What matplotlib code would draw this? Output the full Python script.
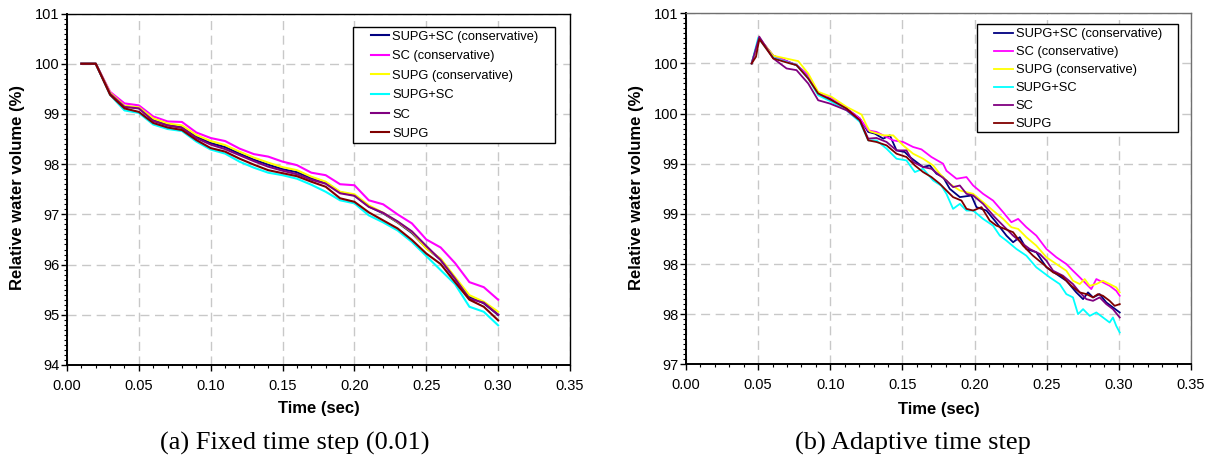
import matplotlib
matplotlib.use("Agg")
import matplotlib.pyplot as plt
from matplotlib.ticker import MultipleLocator, FixedLocator, FixedFormatter
from matplotlib.patches import Rectangle

# ---------------- data ----------------
series_names = ["SUPG+SC (conservative)", "SC (conservative)", "SUPG (conservative)",
                "SUPG+SC", "SC", "SUPG"]
series_colors = ["#000080", "#FF00FF", "#FFFF00", "#00FFFF", "#800080", "#800000"]

# (a) fixed time step
fixed_time = [0.01, 0.02, 0.03, 0.04, 0.05, 0.06, 0.07, 0.08, 0.09, 0.10,
              0.11, 0.12, 0.13, 0.14, 0.15, 0.16, 0.17, 0.18, 0.19, 0.20,
              0.21, 0.22, 0.23, 0.24, 0.25, 0.26, 0.27, 0.28, 0.29, 0.30]
fixed_supg_sc_cons = [100, 100, 99.41, 99.15, 99.12, 98.88, 98.79, 98.74, 98.55, 98.42,
                      98.34, 98.21, 98.09, 97.99, 97.90, 97.84, 97.72, 97.63, 97.44, 97.38,
                      97.16, 97.02, 96.84, 96.63, 96.33, 96.10, 95.73, 95.36, 95.23, 95.00]
fixed_sc_cons = [100, 100, 99.44, 99.21, 99.17, 98.95, 98.85, 98.84, 98.63, 98.52,
                 98.46, 98.31, 98.20, 98.15, 98.05, 97.98, 97.83, 97.78, 97.60, 97.58,
                 97.28, 97.20, 97.00, 96.82, 96.50, 96.34, 96.03, 95.65, 95.55, 95.30]
fixed_supg_cons = [100, 100, 99.42, 99.16, 99.13, 98.91, 98.81, 98.77, 98.58, 98.46,
                   98.38, 98.25, 98.13, 98.03, 97.94, 97.88, 97.75, 97.65, 97.45, 97.40,
                   97.18, 97.03, 96.85, 96.65, 96.32, 96.12, 95.75, 95.39, 95.26, 95.06]
fixed_supg_sc = [100, 100, 99.38, 99.07, 99.02, 98.79, 98.70, 98.66, 98.45, 98.29,
                 98.21, 98.05, 97.93, 97.83, 97.78, 97.71, 97.59, 97.45, 97.28, 97.22,
                 96.98, 96.84, 96.68, 96.45, 96.17, 95.89, 95.61, 95.16, 95.06, 94.79]
fixed_sc = [100, 100, 99.40, 99.14, 99.11, 98.86, 98.77, 98.72, 98.52, 98.39,
            98.30, 98.18, 98.06, 97.95, 97.87, 97.80, 97.69, 97.61, 97.42, 97.37,
            97.15, 97.03, 96.86, 96.66, 96.37, 96.09, 95.72, 95.32, 95.24, 95.00]
fixed_supg = [100, 100, 99.38, 99.11, 99.04, 98.82, 98.73, 98.68, 98.48, 98.32,
              98.25, 98.11, 97.99, 97.88, 97.82, 97.76, 97.65, 97.55, 97.32, 97.25,
              97.04, 96.88, 96.72, 96.49, 96.22, 96.01, 95.65, 95.30, 95.16, 94.89]

# (b) adaptive time step (each run has its own time samples)
adapt_supg_sc_cons_t = [0.0455, 0.0508, 0.0605, 0.0766, 0.0847, 0.0916, 0.0997, 0.1113, 0.1205, 0.1263,
                        0.1309, 0.1367, 0.1413, 0.1459, 0.1516, 0.1551, 0.1597, 0.1643, 0.1690, 0.1736,
                        0.1782, 0.1828, 0.1898, 0.1978, 0.2013, 0.2082, 0.2140, 0.2221, 0.2267, 0.2313,
                        0.2359, 0.2428, 0.2498, 0.2567, 0.2636, 0.2705, 0.2752, 0.2786, 0.2821, 0.2867,
                        0.2913, 0.2959, 0.3006]
adapt_supg_sc_cons_v = [100.0, 100.25, 100.077, 99.983, 99.883, 99.70, 99.65, 99.55, 99.45, 99.317,
                        99.30, 99.25, 99.283, 99.133, 99.117, 99.067, 99.017, 98.967, 98.983, 98.90,
                        98.867, 98.75, 98.667, 98.683, 98.567, 98.533, 98.433, 98.283, 98.217, 98.267,
                        98.15, 98.117, 97.967, 97.90, 97.833, 97.717, 97.65, 97.717, 97.667, 97.70,
                        97.617, 97.567, 97.517]

adapt_sc_cons_t = [0.0455, 0.0508, 0.0605, 0.0766, 0.0847, 0.0916, 0.0997, 0.1113, 0.1205, 0.1263,
                   0.1320, 0.1367, 0.1436, 0.1505, 0.1574, 0.1632, 0.1701, 0.1782, 0.1805, 0.1875,
                   0.1944, 0.1990, 0.2059, 0.2128, 0.2198, 0.2255, 0.2302, 0.2359, 0.2428, 0.2498,
                   0.2567, 0.2636, 0.2682, 0.2729, 0.2775, 0.2809, 0.2844, 0.2890, 0.2936, 0.2982,
                   0.3006]
adapt_sc_cons_v = [100.0, 100.25, 100.077, 99.983, 99.883, 99.693, 99.667, 99.55, 99.45, 99.333,
                   99.317, 99.283, 99.233, 99.217, 99.167, 99.143, 99.067, 99.0, 98.93, 98.85,
                   98.867, 98.783, 98.70, 98.633, 98.517, 98.417, 98.45, 98.367, 98.283, 98.15,
                   98.067, 98.0, 97.933, 97.867, 97.80, 97.75, 97.85, 97.817, 97.783, 97.733,
                   97.683]

adapt_supg_cons_t = [0.0455, 0.0508, 0.0605, 0.0778, 0.0847, 0.0916, 0.1009, 0.1113, 0.1217, 0.1251,
                     0.1274, 0.1367, 0.1436, 0.1505, 0.1574, 0.1643, 0.1713, 0.1759, 0.1828, 0.1898,
                     0.1990, 0.2059, 0.2128, 0.2198, 0.2255, 0.2302, 0.2359, 0.2428, 0.2498, 0.2567,
                     0.2636, 0.2682, 0.2729, 0.2763, 0.2798, 0.2844, 0.2890, 0.2936, 0.2982, 0.3006]
adapt_supg_cons_v = [100.0, 100.25, 100.077, 100.023, 99.90, 99.717, 99.667, 99.567, 99.49, 99.383,
                     99.323, 99.283, 99.283, 99.183, 99.10, 99.05, 98.983, 98.90, 98.80, 98.733,
                     98.70, 98.617, 98.533, 98.45, 98.367, 98.35, 98.267, 98.183, 98.067, 98.0,
                     97.933, 97.833, 97.80, 97.85, 97.783, 97.80, 97.833, 97.80, 97.767, 97.717]

adapt_supg_sc_t = [0.0455, 0.0501, 0.0605, 0.0766, 0.0847, 0.0916, 0.1009, 0.1113, 0.1205, 0.1263,
                   0.1320, 0.1390, 0.1459, 0.1528, 0.1586, 0.1643, 0.1713, 0.1770, 0.1805, 0.1851,
                   0.1898, 0.1944, 0.1990, 0.2059, 0.2128, 0.2175, 0.2221, 0.2290, 0.2359, 0.2428,
                   0.2521, 0.2590, 0.2636, 0.2682, 0.2717, 0.2752, 0.2798, 0.2844, 0.2890, 0.2936,
                   0.2959, 0.2982, 0.3006]
adapt_supg_sc_v = [100.0, 100.257, 100.057, 99.983, 99.85, 99.683, 99.617, 99.533, 99.417, 99.233,
                   99.233, 99.15, 99.05, 99.033, 98.917, 98.95, 98.833, 98.78, 98.70, 98.55,
                   98.60, 98.533, 98.533, 98.45, 98.383, 98.283, 98.233, 98.15, 98.083, 97.967,
                   97.867, 97.80, 97.70, 97.667, 97.50, 97.55, 97.483, 97.517, 97.467, 97.417,
                   97.467, 97.383, 97.317]

adapt_sc_t = [0.0455, 0.0508, 0.0605, 0.0697, 0.0766, 0.0847, 0.0916, 0.0997, 0.1113, 0.1205,
              0.1263, 0.1320, 0.1390, 0.1459, 0.1528, 0.1574, 0.1643, 0.1701, 0.1759, 0.1805,
              0.1851, 0.1898, 0.1944, 0.1990, 0.2059, 0.2140, 0.2198, 0.2267, 0.2336, 0.2382,
              0.2452, 0.2498, 0.2544, 0.2613, 0.2682, 0.2729, 0.2775, 0.2821, 0.2867, 0.2913,
              0.2959, 0.3006]
adapt_sc_v = [100.0, 100.267, 100.05, 99.95, 99.933, 99.80, 99.633, 99.60, 99.533, 99.433,
              99.25, 99.257, 99.217, 99.133, 99.133, 99.017, 98.967, 98.95, 98.883, 98.833,
              98.767, 98.783, 98.70, 98.683, 98.60, 98.467, 98.383, 98.283, 98.20, 98.15,
              98.10, 98.033, 97.933, 97.883, 97.80, 97.717, 97.65, 97.633, 97.667, 97.60,
              97.55, 97.467]

adapt_supg_t = [0.0455, 0.0485, 0.0508, 0.0605, 0.0697, 0.0766, 0.0847, 0.0916, 0.1009, 0.1113,
                0.1205, 0.1263, 0.1320, 0.1390, 0.1459, 0.1528, 0.1586, 0.1643, 0.1701, 0.1759,
                0.1805, 0.1851, 0.1909, 0.1944, 0.1990, 0.2048, 0.2105, 0.2151, 0.2209, 0.2267,
                0.2336, 0.2405, 0.2475, 0.2544, 0.2602, 0.2671, 0.2729, 0.2775, 0.2821, 0.2855,
                0.2890, 0.2936, 0.2971, 0.3006]
adapt_supg_v = [100.0, 100.067, 100.243, 100.05, 100.01, 99.983, 99.85, 99.70, 99.633, 99.55,
                99.433, 99.233, 99.217, 99.183, 99.10, 99.067, 98.983, 98.917, 98.867, 98.80,
                98.733, 98.667, 98.633, 98.55, 98.533, 98.567, 98.433, 98.383, 98.35, 98.317,
                98.183, 98.083, 98.0, 97.917, 97.883, 97.783, 97.717, 97.70, 97.667, 97.70,
                97.683, 97.633, 97.583, 97.60]

x_ticks = [0.00, 0.05, 0.10, 0.15, 0.20, 0.25, 0.30, 0.35]
x_ticklabels = ["0.00", "0.05", "0.10", "0.15", "0.20", "0.25", "0.30", "0.35"]
left_yticks = [94, 95, 96, 97, 98, 99, 100, 101]
left_yticklabels = ["94", "95", "96", "97", "98", "99", "100", "101"]
right_yticks = [97.0, 97.5, 98.0, 98.5, 99.0, 99.5, 100.0, 100.5]
right_yticklabels = ["97", "98", "98", "99", "99", "100", "100", "101"]

x_label = "Time (sec)"
y_label = "Relative water volume (%)"
captions = ["(a) Fixed time step (0.01)", "(b) Adaptive time step"]

# ---------------- figure ----------------
W, H, DPI = 1214, 459, 100
fig = plt.figure(figsize=(W / DPI, H / DPI), dpi=DPI, facecolor="white")

SANS = "Liberation Sans"
SERIF = "Liberation Serif"


def px_axes(l, t, r, b):
    return fig.add_axes([l / W, 1 - b / H, (r - l) / W, (b - t) / H])


ax1 = px_axes(67, 13.5, 570, 365)
ax2 = px_axes(686, 13.3, 1191, 364.3)

fixed_series = [fixed_supg_sc_cons, fixed_sc_cons, fixed_supg_cons,
                fixed_supg_sc, fixed_sc, fixed_supg]
adapt_series = [(adapt_supg_sc_cons_t, adapt_supg_sc_cons_v), (adapt_sc_cons_t, adapt_sc_cons_v),
                (adapt_supg_cons_t, adapt_supg_cons_v), (adapt_supg_sc_t, adapt_supg_sc_v),
                (adapt_sc_t, adapt_sc_v), (adapt_supg_t, adapt_supg_v)]

for name, col, vals in zip(series_names, series_colors, fixed_series):
    ax1.plot(fixed_time, vals, color=col, lw=1.5, label=name, zorder=3)
for name, col, (tt, vv) in zip(series_names, series_colors, adapt_series):
    ax2.plot(tt, vv, color=col, lw=1.3, label=name, zorder=3)


def style_axes(ax, yticks, ylabels, ylim, yminor, spine_col):
    ax.set_xlim(0, 0.35)
    ax.set_ylim(*ylim)
    ax.xaxis.set_major_locator(FixedLocator(x_ticks))
    ax.xaxis.set_major_formatter(FixedFormatter(x_ticklabels))
    ax.xaxis.set_minor_locator(MultipleLocator(0.01))
    ax.yaxis.set_major_locator(FixedLocator(yticks))
    ax.yaxis.set_major_formatter(FixedFormatter(ylabels))
    ax.yaxis.set_minor_locator(MultipleLocator(yminor))
    ax.tick_params(which="major", direction="out", length=4, width=1, color="black",
                   labelsize=10.5, pad=1.5)
    ax.tick_params(axis="x", which="major", pad=6)
    ax.tick_params(which="minor", direction="out", length=2.2, width=0.8, color="black")
    for lab in ax.get_xticklabels() + ax.get_yticklabels():
        lab.set_fontfamily(SANS)
    ax.grid(True, which="major", color="#c8c8c8", lw=1.0, ls=(0, (6.5, 4)), zorder=1)
    ax.set_axisbelow(True)
    ax.spines["left"].set_linewidth(1.4)
    ax.spines["bottom"].set_linewidth(1.4)
    ax.spines["top"].set_linewidth(1.0)
    ax.spines["right"].set_linewidth(1.0)
    ax.spines["top"].set_color(spine_col)
    ax.spines["right"].set_color(spine_col)


style_axes(ax1, left_yticks, left_yticklabels, (94, 101), 0.1, "black")
style_axes(ax2, right_yticks, right_yticklabels, (97, 100.5), 0.05, "#707070")

# axis labels and captions
label_font = dict(family=SANS, size=12, weight="bold")
fig.text(318.5 / W, 1 - 413 / H, x_label, ha="center", va="baseline", **label_font)
fig.text(938.5 / W, 1 - 414 / H, x_label, ha="center", va="baseline", **label_font)
fig.text(18 / W, 1 - 188 / H, y_label, rotation=90, ha="center", va="center", **label_font)
fig.text(636 / W, 1 - 188 / H, y_label, rotation=90, ha="center", va="center", **label_font)
fig.text(294.5 / W, 1 - 450 / H, captions[0], ha="center", va="baseline", family=SERIF, size=19)
fig.text(913.3 / W, 1 - 450 / H, captions[1], ha="center", va="baseline", family=SERIF, size=19)

# legends (frame drawn separately so its padding matches the original)
leg_font = dict(family=SANS, size=9.3)
leg1 = ax1.legend(loc="upper left", bbox_to_anchor=(0.6038, 0.9505), frameon=False,
                  borderpad=0, borderaxespad=0, handlelength=1.45, handletextpad=0.2,
                  labelspacing=0.57, prop=leg_font)
leg2 = ax2.legend(loc="upper left", bbox_to_anchor=(0.6105, 0.9575), frameon=False,
                  borderpad=0, borderaxespad=0, handlelength=1.45, handletextpad=0.2,
                  labelspacing=0.46, prop=leg_font)
for leg in (leg1, leg2):
    leg.set_zorder(6)

fig.canvas.draw()
renderer = fig.canvas.get_renderer()
inv = fig.transFigure.inverted()
for ax, leg, pads in ((ax1, leg1, (18, 17, 4, 3.5)), (ax2, leg2, (17.6, 16.6, 4, 2.3))):
    bb = leg.get_window_extent(renderer)
    l, r, t, b = pads
    x0, y0 = inv.transform((bb.x0 - l, bb.y0 - b))
    x1, y1 = inv.transform((bb.x1 + r, bb.y1 + t))
    rect = Rectangle((x0, y0), x1 - x0, y1 - y0, transform=fig.transFigure,
                     facecolor="white", edgecolor="black", lw=1.0, zorder=5, clip_on=False)
    ax.add_artist(rect)

fig.savefig("out.png", dpi=DPI, facecolor="white")
